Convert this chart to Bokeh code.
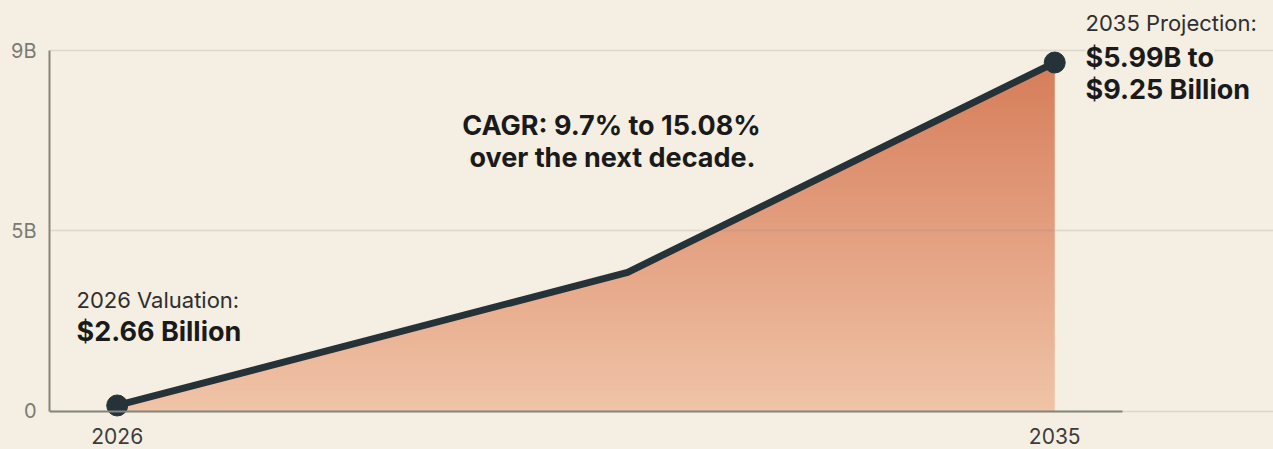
import numpy as np
from bokeh.plotting import figure
from bokeh.models import Label, FixedTicker, GlobalInlineStyleSheet
from bokeh.embed import file_html
from bokeh.resources import INLINE

# ---- data (in the chart's own y units) ----
years = [2026, 2030.9, 2035]
values = [0.15, 3.47, 8.70]
y_ticks = [0, 4.5, 9]
y_tick_labels = ["0", "5B", "9B"]
x_ticks = [2026, 2035]
x_tick_labels = ["2026", "2035"]

BG = "#f4efe2"
LINE = "#253238"
FONT = "Inter"

W, H = 1273, 449
L = 49                      # left panel (y axis)
PX_PER_YEAR = 104.17
PX_PER_UNIT = 40.11
AX_X0, AX_X1 = 2025.35, 2035.65   # extent of the x axis line
Y_TOP_PAGE = 50                     # page y of the 9B line
X0 = AX_X0
X1 = X0 + (W - L) / PX_PER_YEAR
Y1 = y_ticks[-1] + Y_TOP_PAGE / PX_PER_UNIT
Y0 = Y1 - H / PX_PER_UNIT

p = figure(width=W, height=H,
           x_range=(X0, X1), y_range=(Y0, Y1),
           output_backend="svg", toolbar_location=None,
           min_border_left=L, min_border_right=0,
           min_border_top=0, min_border_bottom=0)
p.background_fill_color = BG
p.border_fill_color = BG
p.outline_line_color = None
p.stylesheets = [GlobalInlineStyleSheet(css="html, body { background: %s; }" % BG)]

# ---- gradient fill under the line ----
n = 256
top_c = np.array([213, 122, 86])
bot_c = np.array([240, 196, 168])
t = np.linspace(0, 1, n)[:, None]
cols = (bot_c * (1 - t) + top_c * t).round().astype(np.uint8)
img = np.empty((n, 1), dtype=np.uint32)
view = img.view(dtype=np.uint8).reshape((n, 1, 4))
view[:, 0, 0] = cols[:, 0]
view[:, 0, 1] = cols[:, 1]
view[:, 0, 2] = cols[:, 2]
view[:, 0, 3] = 255
p.image_rgba(image=[img], x=years[0], y=y_ticks[0],
             dw=years[-1] - years[0], dh=y_ticks[-1], level="image")
# mask everything above the line with the background colour
top = y_ticks[-1] + 1.0
p.patch(x=years + [years[-1], years[0]], y=values + [top, top],
        fill_color=BG, line_color=BG, line_width=2, level="image")

# ---- line and end markers ----
p.line(years, values, line_color=LINE, line_width=7, line_join="round", line_cap="round")
p.scatter([years[0], years[-1]], [values[0], values[-1]], size=21,
          fill_color=LINE, line_color=LINE)

# ---- axes ----
p.xaxis.ticker = FixedTicker(ticks=x_ticks)
p.xaxis.major_label_overrides = dict(zip(x_ticks, x_tick_labels))
p.xaxis.fixed_location = 0
p.xaxis.bounds = (AX_X0, AX_X1)
p.yaxis.ticker = FixedTicker(ticks=y_ticks)
p.yaxis.major_label_overrides = dict(zip(y_ticks, y_tick_labels))
p.yaxis.bounds = (y_ticks[0], y_ticks[-1])
for ax in (p.xaxis, p.yaxis):
    ax.axis_line_color = "#86847c"
    ax.axis_line_width = 2
    ax.major_tick_line_color = None
    ax.minor_tick_line_color = None
    ax.major_tick_out = 0
    ax.major_tick_in = 0
    ax.minor_tick_out = 0
    ax.major_label_text_font = FONT
p.xaxis.major_label_text_font_size = "21px"
p.xaxis.major_label_text_color = "#3c3c3c"
p.xaxis.major_label_standoff = 17
p.yaxis.major_label_text_font_size = "20px"
p.yaxis.major_label_text_color = "#7b7a74"
p.yaxis.major_label_standoff = 13

p.xgrid.visible = False
p.ygrid.ticker = FixedTicker(ticks=y_ticks)
p.ygrid.bounds = (AX_X0, AX_X1)
p.ygrid.grid_line_color = "#8c887c"
p.ygrid.grid_line_alpha = 0.22
p.ygrid.grid_line_width = 1.5

# ---- annotations, placed in data units from page pixel positions ----
def dx(px):
    return X0 + (px - L) / PX_PER_YEAR
def dy(py):
    return Y1 - py / PX_PER_UNIT

def lab(text, x, y_base, size, bold, color, align="left", bg=None):
    l = Label(x=dx(x), y=dy(y_base), x_units="data", y_units="data",
              text=text, text_font=FONT, text_font_size=size,
              text_font_style="bold" if bold else "normal", text_color=color,
              text_align=align, text_baseline="alphabetic")
    if bg is not None:
        l.background_fill_color = bg
    p.add_layout(l)

lab("2026 Valuation:", 76, 299, "22px", False, "#2e2e2e")
lab("$2.66 Billion", 76, 331, "27px", True, "#1a1a1a")
lab("CAGR: 9.7% to 15.08%", 611, 125, "27px", True, "#1a1a1a", align="center")
lab("over the next decade.", 612, 157, "27px", True, "#1a1a1a", align="center")
lab("2035 Projection:", 1085, 22, "22px", False, "#2e2e2e")
lab("$5.99B to", 1085, 57, "27px", True, "#1a1a1a", bg=BG)
lab("$9.25 Billion", 1085, 89, "27px", True, "#1a1a1a")

open("out.html", "w").write(file_html(p, INLINE))
